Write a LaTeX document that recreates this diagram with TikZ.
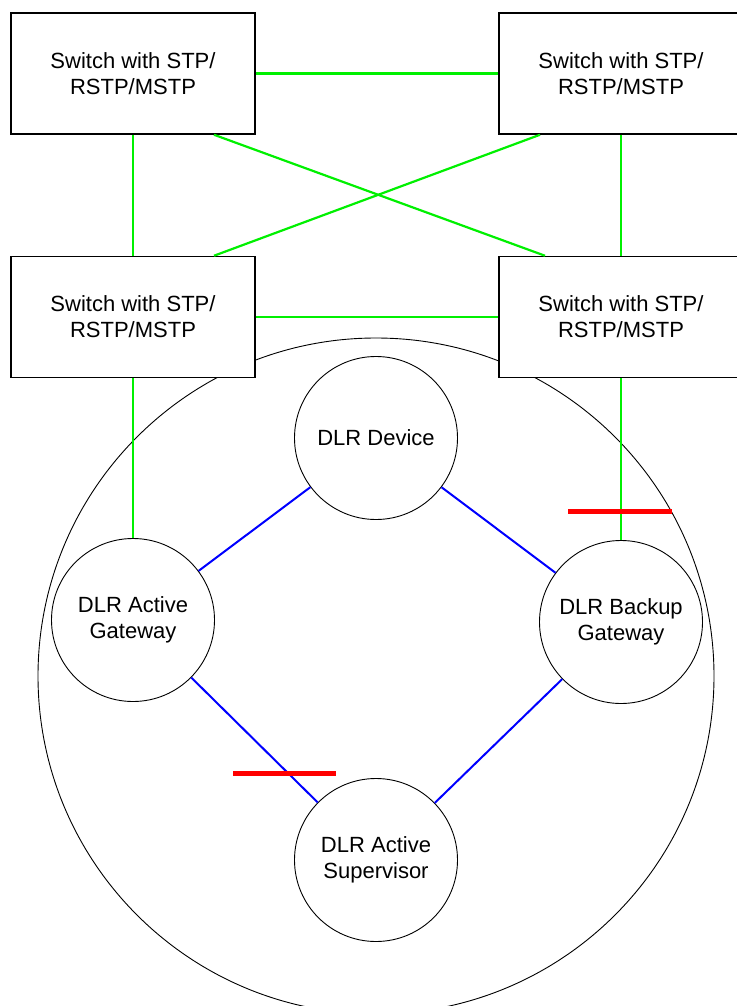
\documentclass[tikz,border=0pt]{standalone}
\usepackage{fontspec}
\setmainfont{Liberation Sans}
\begin{document}
\begin{tikzpicture}[x=1pt,y=-1pt,
  switchbox/.style={draw=black, line width=1.5pt, fill=white, minimum width=244pt, minimum height=121pt, align=center, inner sep=0pt, font=\fontsize{22}{26}\selectfont},
  dlr/.style={draw=black, line width=0.9pt, circle, minimum size=163pt, align=center, inner sep=0pt, font=\fontsize{22}{26}\selectfont},
  stplink/.style={draw={rgb,255:red,0;green,240;blue,0}, line width=2.2pt},
  uplink/.style={draw={rgb,255:red,0;green,240;blue,0}, line width=1.6pt},
  ringlink/.style={draw={rgb,255:red,0;green,0;blue,255}, line width=2pt},
  blocked/.style={draw={rgb,255:red,255;green,0;blue,0}, line width=5pt}]
\useasboundingbox (0,0) rectangle (736,1006);
\fill[white] (0,0) rectangle (736,1006);
% ring enclosure
\draw[line width=0.9pt] (376,676) circle[radius=338];
% switches
\node[switchbox] (tl) at (133,73.5) {Switch with STP/\\RSTP/MSTP};
\node[switchbox] (tr) at (621,73.5) {Switch with STP/\\RSTP/MSTP};
\node[switchbox] (bl) at (133,317) {Switch with STP/\\RSTP/MSTP};
\node[switchbox] (br) at (621,317) {Switch with STP/\\RSTP/MSTP};
% DLR nodes
\node[dlr] (dev) at (376,438) {DLR Device};
\node[dlr] (ag) at (133,620) {DLR Active\\Gateway};
\node[dlr] (bg) at (621,622) {DLR Backup\\Gateway};
\node[dlr] (sup) at (376,860) {DLR Active\\Supervisor};
% switch links
\draw[stplink] (tl) -- (tr);
\draw[stplink] (bl) -- (br);
\draw[stplink] (tl) -- (bl);
\draw[stplink] (tr) -- (br);
\draw[stplink] ([xshift=81pt]tl.south) -- ([xshift=-76pt]br.north);
\draw[stplink] ([xshift=-81pt]tr.south) -- ([xshift=81pt]bl.north);
\draw[uplink] (bl) -- (ag);
\draw[uplink] (br) -- (bg);
% ring links
\draw[ringlink] (dev) -- (ag);
\draw[ringlink] (dev) -- (bg);
\draw[ringlink] (ag) -- (sup);
\draw[ringlink] (bg) -- (sup);
% blocked-port marks
\coordinate (b1a) at (568,511);
\coordinate (b1b) at (672,511);
\coordinate (b2a) at (233,773);
\coordinate (b2b) at (336,773);
\draw[blocked] (b1a) -- (b1b);
\draw[blocked] (b2a) -- (b2b);
\end{tikzpicture}
\end{document}
